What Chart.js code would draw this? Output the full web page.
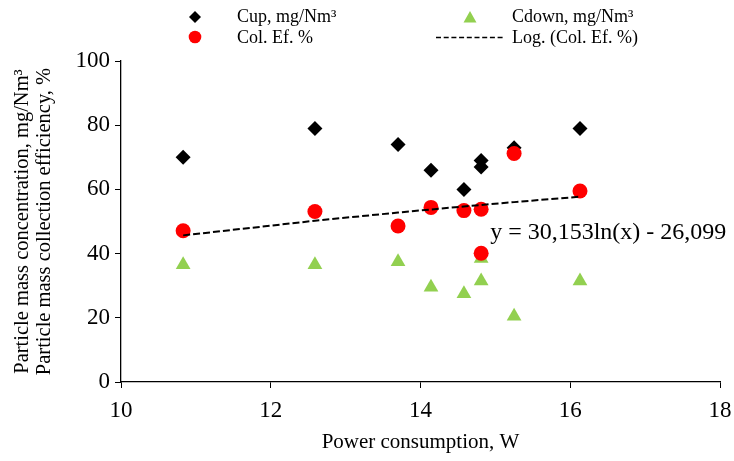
<!DOCTYPE html>
<html>
<head>
<meta charset="utf-8">
<script src="https://cdn.jsdelivr.net/npm/chart.js@4.4.0/dist/chart.umd.min.js"></script>
<style>
  html, body { margin: 0; padding: 0; background: #fff; }
  #wrap { width: 734px; height: 461px; }
</style>
</head>
<body>
<div id="wrap"><canvas id="chart" width="734" height="461"></canvas></div>
<script>
// values
const power = [10.83, 12.59, 13.70, 14.14, 14.58, 14.81, 14.81, 15.25, 16.13];
const cUp = [70, 79, 74, 66, 60, 69, 67, 73, 79];
const cDown = [36.5, 36.5, 37.5, 29.5, 27.5, 31.5, 38.5, 20.5, 31.5];
const colEf = [47.1, 53.1, 48.6, 54.4, 53.4, 53.8, 40.1, 71.2, 59.5];
const xTicks = [10, 12, 14, 16, 18];
const yTicks = [0, 20, 40, 60, 80, 100];
const trendText = 'y = 30,153ln(x) - 26,099';

const FONT = '"Liberation Serif", "Times New Roman", serif';

const pts = ys => power.map((x, i) => ({ x: x, y: ys[i] }));

// log trendline (least squares on ln x), like the spreadsheet does
function logFit(xs, ys) {
  const lx = xs.map(Math.log);
  const n = xs.length;
  const mx = lx.reduce((a, b) => a + b, 0) / n;
  const my = ys.reduce((a, b) => a + b, 0) / n;
  let sxy = 0, sxx = 0;
  lx.forEach((l, i) => { sxy += (l - mx) * (ys[i] - my); sxx += (l - mx) * (l - mx); });
  const a = sxy / sxx;
  return { a: a, b: my - a * mx };
}
const fit = logFit(power, colEf);
const trendXs = [...new Set(power)].sort((a, b) => a - b);
const trendPts = trendXs.map(x => ({ x: x, y: fit.a * Math.log(x) + fit.b }));

const extras = {
  id: 'extras',
  afterDraw(chart) {
    const ctx = chart.ctx;
    const xs = chart.scales.x, ys = chart.scales.y;
    ctx.save();

    // legend
    ctx.fillStyle = '#000';
    ctx.beginPath();
    ctx.moveTo(195, 11); ctx.lineTo(201, 17); ctx.lineTo(195, 23); ctx.lineTo(189, 17);
    ctx.closePath(); ctx.fill();

    ctx.fillStyle = '#92D050';
    ctx.beginPath();
    ctx.moveTo(470, 11); ctx.lineTo(476.5, 22.5); ctx.lineTo(463.5, 22.5);
    ctx.closePath(); ctx.fill();

    ctx.fillStyle = '#FF0000';
    ctx.beginPath(); ctx.arc(195, 37, 6.3, 0, Math.PI * 2); ctx.fill();

    ctx.strokeStyle = '#000';
    ctx.lineWidth = 1.5;
    ctx.setLineDash([5, 2.7]);
    ctx.beginPath(); ctx.moveTo(436, 37.5); ctx.lineTo(505, 37.5); ctx.stroke();
    ctx.setLineDash([]);

    ctx.fillStyle = '#000';
    ctx.font = '18px ' + FONT;
    ctx.textBaseline = 'middle';
    ctx.textAlign = 'left';
    ctx.fillText('Cup, mg/Nm³', 237, 17);
    ctx.fillText('Cdown, mg/Nm³', 512, 17);
    ctx.fillText('Col. Ef. %', 237, 38);
    ctx.fillText('Log. (Col. Ef. %)', 512, 38);

    // trendline equation
    ctx.font = '24px ' + FONT;
    ctx.fillText(trendText, xs.getPixelForValue(14.93), ys.getPixelForValue(46.4));
    ctx.restore();
  }
};

new Chart(document.getElementById('chart'), {
  type: 'scatter',
  data: {
    datasets: [
      {
        label: 'Log. (Col. Ef. %)',
        data: trendPts,
        showLine: true,
        borderColor: '#000',
        borderWidth: 2,
        borderDash: [7, 3],
        pointRadius: 0,
        order: 0
      },
      {
        label: 'Col. Ef. %',
        data: pts(colEf),
        pointStyle: 'circle',
        pointRadius: 7.5,
        pointBorderWidth: 0,
        backgroundColor: '#FF0000',
        borderColor: '#FF0000',
        order: 1
      },
      {
        label: 'Cdown, mg/Nm³',
        data: pts(cDown),
        pointStyle: 'triangle',
        pointRadius: 8.5,
        pointBorderWidth: 0,
        backgroundColor: '#92D050',
        borderColor: '#92D050',
        order: 2
      },
      {
        label: 'Cup, mg/Nm³',
        data: pts(cUp),
        pointStyle: 'rectRot',
        pointRadius: 7.5,
        pointBorderWidth: 0,
        backgroundColor: '#000',
        borderColor: '#000',
        order: 3
      }
    ]
  },
  options: {
    responsive: false,
    animation: false,
    devicePixelRatio: 1,
    layout: { padding: { top: 61, right: 14, bottom: 4, left: 10 } },
    plugins: {
      legend: { display: false },
      tooltip: { enabled: false }
    },
    scales: {
      x: {
        min: 10,
        max: 18,
        afterBuildTicks: s => { s.ticks = xTicks.map(v => ({ value: v })); },
        afterFit: s => { s.height = 75; s.paddingLeft = 0; s.paddingRight = 0; },
        grid: { drawOnChartArea: false, tickLength: 6, color: '#000', tickColor: '#000' },
        border: { color: '#000', width: 1.3 },
        ticks: { color: '#000', padding: 9, font: { family: FONT, size: 23 } },
        title: {
          display: true,
          text: 'Power consumption, W',
          color: '#000',
          padding: { top: 0, bottom: 2 },
          font: { family: FONT, size: 21 }
        }
      },
      y: {
        min: 0,
        max: 100,
        afterBuildTicks: s => { s.ticks = yTicks.map(v => ({ value: v })); },
        afterFit: s => { s.width = 111; s.paddingTop = 0; s.paddingBottom = 0; },
        grid: { drawOnChartArea: false, tickLength: 6, color: '#000', tickColor: '#000' },
        border: { color: '#000', width: 1.3 },
        ticks: { color: '#000', padding: 5, font: { family: FONT, size: 23 } },
        title: {
          display: true,
          text: ['Particle mass concentration, mg/Nm³', 'Particle mass collection efficiency, %'],
          color: '#000',
          padding: { top: 2.5, bottom: 0 },
          font: { family: FONT, size: 20.5, lineHeight: 1.03 }
        }
      }
    }
  },
  plugins: [extras]
});
</script>
</body>
</html>
